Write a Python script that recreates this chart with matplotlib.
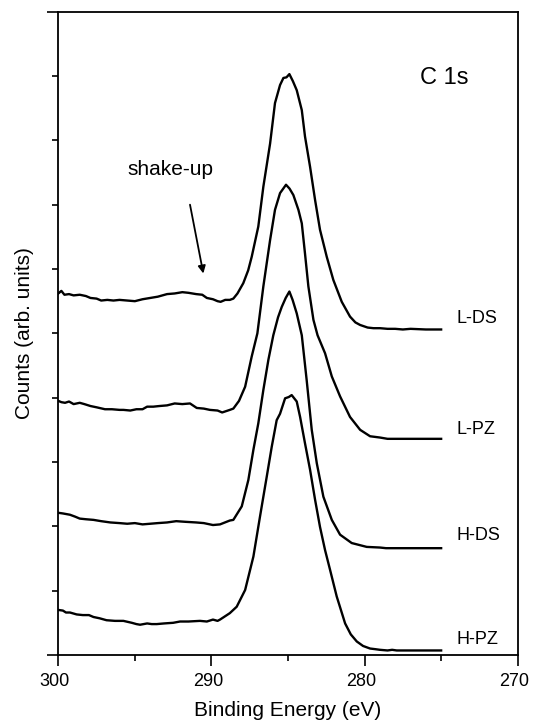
import matplotlib
matplotlib.use("Agg")
import matplotlib.pyplot as plt
from matplotlib.ticker import MultipleLocator, FixedLocator
from matplotlib.transforms import ScaledTranslation

plt.rcParams['font.family'] = ['Liberation Sans', 'DejaVu Sans']

# C 1s spectra, (binding energy eV, counts offset)
l_ds = [(300.0, 5.62), (299.8, 5.66), (299.6, 5.60), (299.3, 5.61), (299.0, 5.59),
        (298.6, 5.60), (298.2, 5.58), (297.9, 5.55), (297.5, 5.54), (297.2, 5.51),
        (296.8, 5.52), (296.4, 5.51), (296.0, 5.52), (295.5, 5.51), (295.0, 5.50),
        (294.5, 5.53), (294.0, 5.55), (293.5, 5.57), (292.9, 5.61), (292.4, 5.62),
        (291.9, 5.64), (291.5, 5.63), (291.0, 5.61), (290.6, 5.60), (290.3, 5.55),
        (289.9, 5.53), (289.6, 5.50), (289.4, 5.49), (289.1, 5.52), (288.8, 5.52),
        (288.57, 5.54), (288.3, 5.62), (287.92, 5.78), (287.6, 5.98), (287.37, 6.19),
        (286.94, 6.66), (286.61, 7.28), (286.17, 7.95), (285.85, 8.58), (285.52, 8.86),
        (285.3, 8.97), (285.1, 8.98), (284.91, 9.03), (284.68, 8.92), (284.43, 8.78),
        (284.1, 8.47), (283.89, 8.06), (283.56, 7.59), (283.23, 7.07), (282.91, 6.61),
        (282.47, 6.19), (282.04, 5.83), (281.49, 5.49), (280.95, 5.26), (280.6, 5.17),
        (280.29, 5.13), (279.8, 5.09), (279.42, 5.08), (278.99, 5.08), (278.5, 5.07),
        (278.0, 5.07), (277.5, 5.06), (277.0, 5.07), (276.0, 5.06), (275.0, 5.06)]

l_pz = [(300.0, 3.95), (299.8, 3.93), (299.56, 3.92), (299.3, 3.94), (299.0, 3.90),
        (298.6, 3.92), (298.3, 3.90), (297.9, 3.87), (297.5, 3.85), (296.95, 3.82),
        (296.5, 3.82), (296.0, 3.81), (295.75, 3.81), (295.3, 3.80), (294.9, 3.82),
        (294.5, 3.82), (294.2, 3.86), (293.8, 3.86), (293.4, 3.87), (292.9, 3.88),
        (292.4, 3.91), (291.9, 3.90), (291.4, 3.91), (290.96, 3.84), (290.5, 3.83),
        (290.1, 3.81), (289.6, 3.80), (289.3, 3.77), (288.8, 3.81), (288.57, 3.83),
        (288.2, 3.95), (287.8, 4.17), (287.37, 4.64), (287.0, 5.00), (286.61, 5.73),
        (286.17, 6.45), (285.85, 6.92), (285.52, 7.18), (285.13, 7.31), (284.9, 7.25),
        (284.65, 7.15), (284.32, 6.92), (284.1, 6.71), (283.89, 6.24), (283.67, 5.73),
        (283.34, 5.21), (283.07, 4.97), (282.58, 4.69), (282.14, 4.33), (281.6, 4.02),
        (280.95, 3.70), (280.29, 3.50), (279.64, 3.40), (278.99, 3.38), (278.5, 3.36),
        (278.0, 3.36), (275.0, 3.36)]

h_ds = [(300.0, 2.21), (299.7, 2.20), (299.24, 2.18), (298.9, 2.15), (298.6, 2.12),
        (298.2, 2.11), (297.7, 2.10), (297.2, 2.08), (296.6, 2.06), (296.0, 2.05),
        (295.5, 2.04), (295.0, 2.05), (294.5, 2.03), (294.0, 2.04), (293.5, 2.05),
        (292.9, 2.06), (292.3, 2.08), (291.7, 2.07), (291.0, 2.06), (290.5, 2.05),
        (289.9, 2.02), (289.44, 2.03), (288.8, 2.09), (288.57, 2.10), (288.02, 2.31),
        (287.59, 2.72), (287.26, 3.19), (286.94, 3.60), (286.61, 4.12), (286.28, 4.59),
        (285.96, 4.97), (285.65, 5.25), (285.41, 5.41), (285.15, 5.55), (284.91, 5.65),
        (284.7, 5.52), (284.43, 5.31), (284.1, 4.97), (283.78, 4.27), (283.45, 3.50),
        (283.12, 2.98), (282.69, 2.46), (282.14, 2.10), (281.6, 1.87), (280.84, 1.74),
        (279.86, 1.68), (278.99, 1.67), (278.6, 1.66), (275.0, 1.66)]

h_pz = [(300.0, 0.70), (299.7, 0.69), (299.5, 0.66), (299.24, 0.66), (298.8, 0.63),
        (298.4, 0.62), (298.0, 0.62), (297.7, 0.59), (297.3, 0.57), (296.85, 0.54),
        (296.3, 0.53), (295.75, 0.53), (295.2, 0.50), (294.9, 0.48), (294.66, 0.47),
        (294.2, 0.49), (293.9, 0.48), (293.57, 0.48), (293.1, 0.49), (292.5, 0.50),
        (292.05, 0.52), (291.5, 0.52), (290.75, 0.53), (290.3, 0.52), (289.9, 0.55),
        (289.6, 0.53), (289.44, 0.55), (288.8, 0.65), (288.35, 0.75), (287.8, 1.01),
        (287.26, 1.53), (286.83, 2.15), (286.39, 2.77), (286.06, 3.24), (285.74, 3.65),
        (285.52, 3.75), (285.19, 3.99), (284.95, 4.01), (284.76, 4.04), (284.43, 3.94),
        (284.21, 3.70), (283.89, 3.29), (283.56, 2.88), (283.23, 2.41), (282.91, 1.99),
        (282.58, 1.63), (282.25, 1.32), (281.82, 0.91), (281.27, 0.49), (280.9, 0.32),
        (280.51, 0.21), (280.1, 0.14), (279.64, 0.10), (279.3, 0.09), (278.99, 0.08),
        (278.5, 0.07), (278.2, 0.08), (277.9, 0.07), (275.0, 0.07)]

spectra = [l_ds, l_pz, h_ds, h_pz]
names = ['L-DS', 'L-PZ', 'H-DS', 'H-PZ']
label_y = [5.23, 3.51, 1.85, 0.24]

fig = plt.figure(figsize=(5.33, 7.23), dpi=100)
ax = fig.add_axes([0.1094, 0.0941, 0.8619, 0.8897])

for spec, name, ly in zip(spectra, names, label_y):
    e, c = zip(*spec)
    ax.plot(e, c, color='black', lw=1.7, solid_joinstyle='round')
    ax.text(274.0, ly, name, fontsize=13, ha='left', va='center')

ax.set_xlim(300, 270)
ax.set_ylim(0, 10)

ax.xaxis.set_major_locator(MultipleLocator(10))
ax.xaxis.set_minor_locator(MultipleLocator(5))
ax.yaxis.set_major_locator(FixedLocator([0, 10]))
ax.yaxis.set_minor_locator(FixedLocator(range(1, 10)))
ax.set_yticklabels([])

ax.tick_params(axis='both', which='major', direction='out', length=8, width=1.2,
               labelsize=13, pad=5)
ax.tick_params(axis='both', which='minor', direction='out', length=4.5, width=1.2)
ax.tick_params(axis='y', which='both', left=True, right=False)
ax.tick_params(axis='x', which='both', bottom=True, top=False)
for sp in ax.spines.values():
    sp.set_linewidth(1.3)

# tick labels sit a few pixels left of their ticks in the original
shift = ScaledTranslation(-3.5 / 100, 0, fig.dpi_scale_trans)
for lab in ax.get_xticklabels():
    lab.set_transform(lab.get_transform() + shift)

ax.set_xlabel('Binding Energy (eV)', fontsize=15)
ax.set_ylabel('Counts (arb. units)', fontsize=15)
ax.xaxis.set_label_coords(0.5, -0.072)
ax.yaxis.set_label_coords(-0.053, 0.5)

ax.text(274.82, 8.97, 'C 1s', fontsize=17, ha='center', va='center')
ax.text(292.66, 7.46, 'shake-up', fontsize=15, ha='center', va='baseline')
ax.annotate('', xy=(290.53, 5.93), xytext=(291.4, 7.0),
            arrowprops=dict(arrowstyle='-|>', color='black', lw=1.3,
                            mutation_scale=11, shrinkA=0, shrinkB=0))

fig.savefig('out.png', dpi=100)
